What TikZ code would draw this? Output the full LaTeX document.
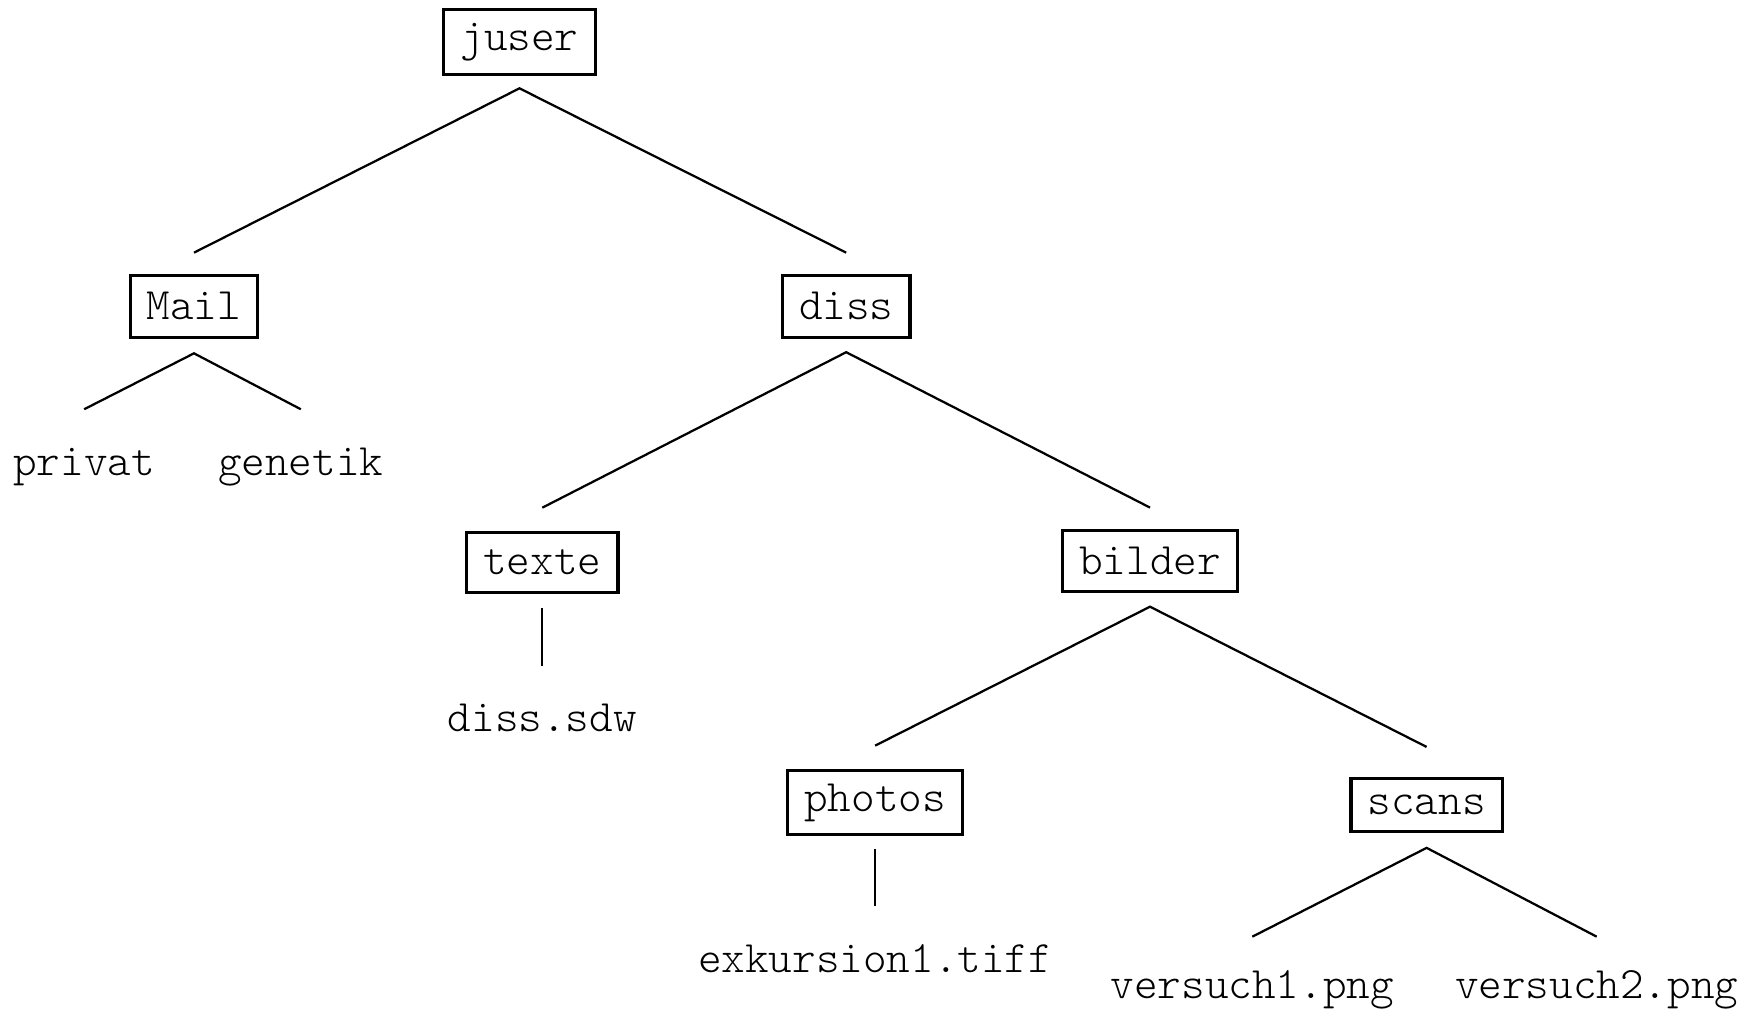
\documentclass[tikz,border=0pt]{standalone}
\usepackage{fontspec}
\setmonofont{Latin Modern Mono Light}
\begin{document}
\begin{tikzpicture}[x=0.4975pt,y=-0.4975pt,
  every node/.style={font=\ttfamily\fontsize{20}{23}\selectfont},
  dirbox/.style={draw,line width=1.4pt,inner xsep=7.4pt,inner ysep=0pt},
  leaf/.style={inner sep=0pt,anchor=base},
  edge/.style={line width=1pt}]
\useasboundingbox (0,0) rectangle (1567.8,902.4);
\node[dirbox,minimum height=28.8pt] (juser) at (464.6,37.6) {juser};
\node[dirbox,minimum height=27.4pt] (mail) at (173.5,274) {Mail};
\node[dirbox,minimum height=27.4pt] (diss) at (756.8,274) {diss};
\node[leaf] (privat) at (75.3,425) {privat};
\node[leaf] (genetik) at (269,425) {genetik};
\node[dirbox,minimum height=26.5pt] (texte) at (485,503) {texte};
\node[dirbox,minimum height=27.2pt] (bilder) at (1028.5,501.8) {bilder};
\node[leaf] (disssdw) at (485,654) {diss.sdw};
\node[dirbox,minimum height=28.4pt] (photos) at (782.7,717.7) {photos};
\node[dirbox,minimum height=23.5pt] (scans) at (1275.9,720.2) {scans};
\node[leaf] (exk) at (782.7,870) {exkursion1.tiff};
\node[leaf] (v1) at (1120,893) {versuch1.png};
\node[leaf] (v2) at (1428,893) {versuch2.png};
\draw[edge] ([yshift=9.5pt]mail.north) -- ([yshift=-5.5pt]juser.south) -- ([yshift=9.5pt]diss.north);
\draw[edge] ([yshift=29.35pt]privat.base) -- ([yshift=-6.5pt]mail.south) -- ([yshift=29.35pt]genetik.base);
\draw[edge] ([yshift=10.4pt]texte.north) -- ([yshift=-6pt]diss.south) -- ([yshift=9.5pt]bilder.north);
\draw[edge] ([yshift=-6.5pt]texte.south) -- ([yshift=28.9pt]disssdw.base);
\draw[edge] ([yshift=10.4pt]photos.north) -- ([yshift=-6pt]bilder.south) -- ([yshift=13.5pt]scans.north);
\draw[edge] ([yshift=-6pt]photos.south) -- ([yshift=29.85pt]exk.base);
\draw[edge] ([yshift=27.5pt]v1.base) -- ([yshift=-6.5pt]scans.south) -- ([yshift=27.5pt]v2.base);
\end{tikzpicture}
\end{document}
